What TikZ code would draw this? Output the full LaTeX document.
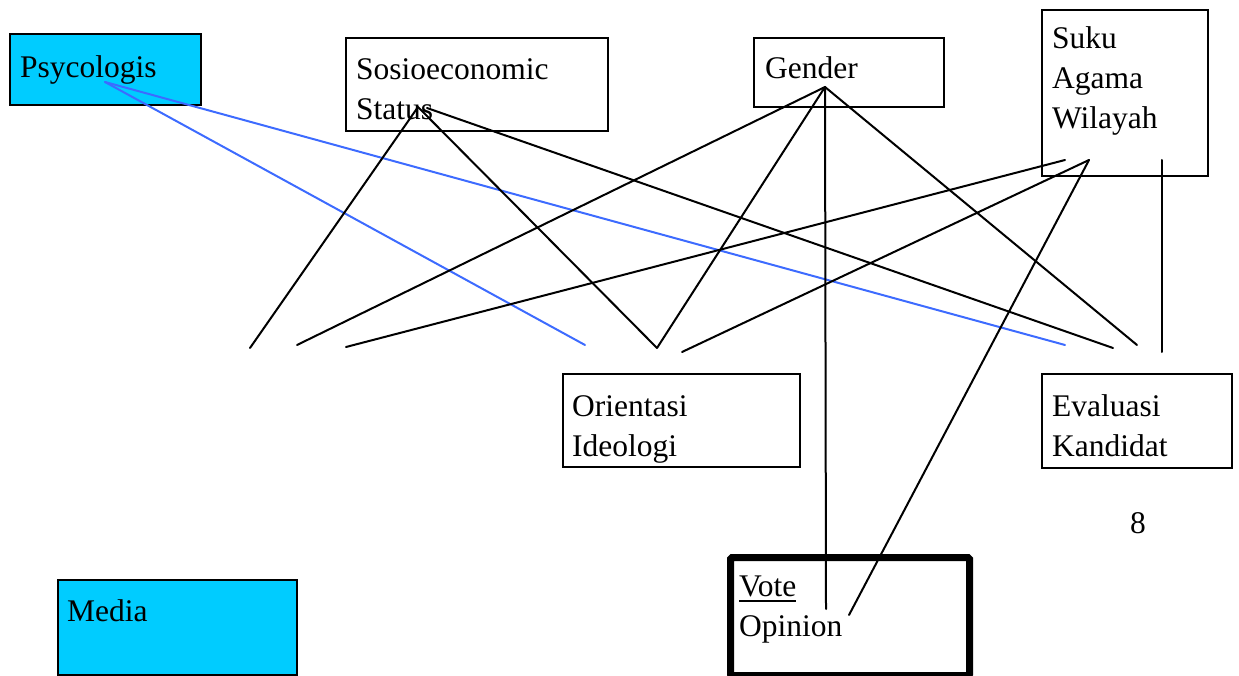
\documentclass[tikz,border=0pt]{standalone}
\usepackage{fontspec}
\setmainfont{Liberation Serif}
\definecolor{medcyan}{HTML}{00CCFF}
\definecolor{linkblue}{HTML}{3D6BFF}
\newcommand{\thickul}[1]{{\setbox0\hbox{#1}\rlap{\rule[-6pt]{\wd0}{1.6pt}}\box0}}
\begin{document}
\begin{tikzpicture}[x=1pt,y=-1pt,
        box/.style={draw,line width=2pt,inner sep=0pt,anchor=north west},
        lbl/.style={anchor=base west,inner sep=0pt,align=left,font=\fontsize{31.5}{40}\selectfont},
        link/.style={line width=2pt,line cap=round}]
            \useasboundingbox (0,0) rectangle (1239,676);

            % boxes
            \node[box,fill=medcyan,minimum width=191pt,minimum height=71pt] (psy) at (9,33) {};
            \node[box,minimum width=262pt,minimum height=93pt] (sosio) at (345,37) {};
            \node[box,minimum width=190pt,minimum height=69pt] (gender) at (753,37) {};
            \node[box,minimum width=166pt,minimum height=166pt] (suku) at (1041,9) {};
            \node[box,minimum width=237pt,minimum height=93pt] (orient) at (562,373) {};
            \node[box,minimum width=190pt,minimum height=94pt] (eval) at (1041,373) {};
            \node[box,line width=7pt,rounded corners=1.5pt,minimum width=239pt,minimum height=118pt] (vote) at (727,554) {};
            \node[box,fill=medcyan,minimum width=239pt,minimum height=95pt] (media) at (57,579) {};

            % texts (base = last line)
            \node[lbl] (psyT) at (20,78) {Psycologis};
            \node[lbl] (sosioT) at (356,120) {Sosioeconomic\\Status};
            \node[lbl] (genderT) at (765,79) {Gender};
            \node[lbl] (sukuT) at (1052,129) {Suku\\Agama\\Wilayah};
            \node[lbl] (orientT) at (572,456) {Orientasi\\Ideologi};
            \node[lbl] (evalT) at (1052,456) {Evaluasi\\Kandidat};
            \node[lbl] (voteT) at (739,636) {\thickul{Vote}\\Opinion};
            \node[lbl] (mediaT) at (67,621) {Media};
            \node[lbl,anchor=base] (eight) at (1138,533) {8};

            % line origins
            \coordinate (ps) at (105,82);
            \coordinate (se) at (418,107);
            \coordinate (se2) at (427,108);
            \coordinate (ge) at (825,87);
            \coordinate (sa) at (1065,160);
            \coordinate (sb) at (1089,160);
            \coordinate (sc) at (1162,160);

            % line ends
            \coordinate (e1) at (250,348);
            \coordinate (e2) at (297,345);
            \coordinate (e3) at (346,347);
            \coordinate (e4) at (585,345);
            \coordinate (e5) at (657,348);
            \coordinate (e6) at (682,352);
            \coordinate (e7) at (1065,345);
            \coordinate (e8) at (1113,348);
            \coordinate (e9) at (1137,345);
            \coordinate (e10) at (1162,352);
            \coordinate (e11) at (826,609);
            \coordinate (e12) at (849,615);

            \foreach \e in {e4,e7}{
                    \draw[link,linkblue] (ps) -- (\e);
                }
            \foreach \e in {e1,e5}{
                    \draw[link] (se) -- (\e);
                }
            \draw[link] (se2) -- (e8);
            \foreach \e in {e2,e5,e9,e11}{
                    \draw[link] (ge) -- (\e);
                }
            \draw[link] (sa) -- (e3);
            \foreach \e in {e6,e12}{
                    \draw[link] (sb) -- (\e);
                }
            \draw[link] (sc) -- (e10);
        \end{tikzpicture}
\end{document}
